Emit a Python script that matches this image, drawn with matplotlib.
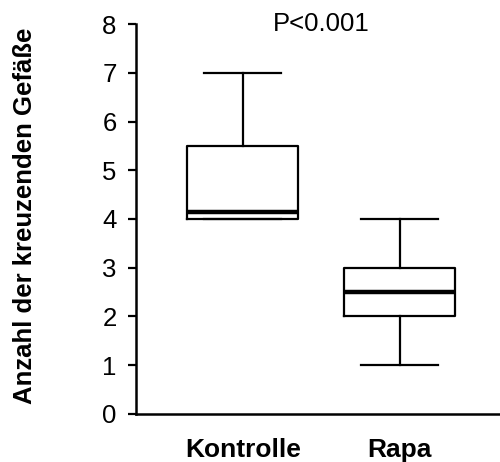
import matplotlib
matplotlib.use("Agg")
import matplotlib.pyplot as plt

groups = ["Kontrolle", "Rapa"]
whislo = [4.0, 1.0]
q1 = [4.0, 2.0]
med = [4.15, 2.5]
q3 = [5.5, 3.0]
whishi = [7.0, 4.0]
y_ticks = [0, 1, 2, 3, 4, 5, 6, 7, 8]

plt.rcParams["font.family"] = ["Liberation Sans", "DejaVu Sans"]

fig = plt.figure(figsize=(5.0, 4.62), dpi=100)
ax = fig.add_axes([0.272, 0.104, 0.728, 0.844])

stats = []
for i in range(len(groups)):
    stats.append({"label": groups[i], "whislo": whislo[i], "q1": q1[i], "med": med[i],
                  "q3": q3[i], "whishi": whishi[i], "fliers": []})

ax.bxp(stats, positions=[1, 2], widths=0.71, showfliers=False,
       boxprops=dict(color="black", linewidth=1.6),
       whiskerprops=dict(color="black", linewidth=1.6),
       capprops=dict(color="black", linewidth=1.6),
       medianprops=dict(color="black", linewidth=3.2),
       capwidths=0.49)

ax.set_xlim(0.32, 2.64)
ax.set_ylim(0, 8)
ax.set_yticks(y_ticks)
ax.tick_params(axis="y", labelsize=18.5, length=6, width=1.6, pad=8, direction="out")
ax.tick_params(axis="x", length=0, pad=17)
ax.set_xticklabels(groups, fontsize=19, fontweight="bold")
for s in ["top", "right"]:
    ax.spines[s].set_visible(False)
ax.spines["left"].set_linewidth(1.8)
ax.spines["bottom"].set_linewidth(1.8)

ax.set_ylabel("Anzahl der kreuzenden Gefäße", fontsize=18.5, fontweight="bold")
ax.yaxis.set_label_coords(-0.272, 0.507)
ax.text(1.5, 8.0, "P<0.001", ha="center", va="center", fontsize=18.5)

fig.savefig("out.png", dpi=100)
